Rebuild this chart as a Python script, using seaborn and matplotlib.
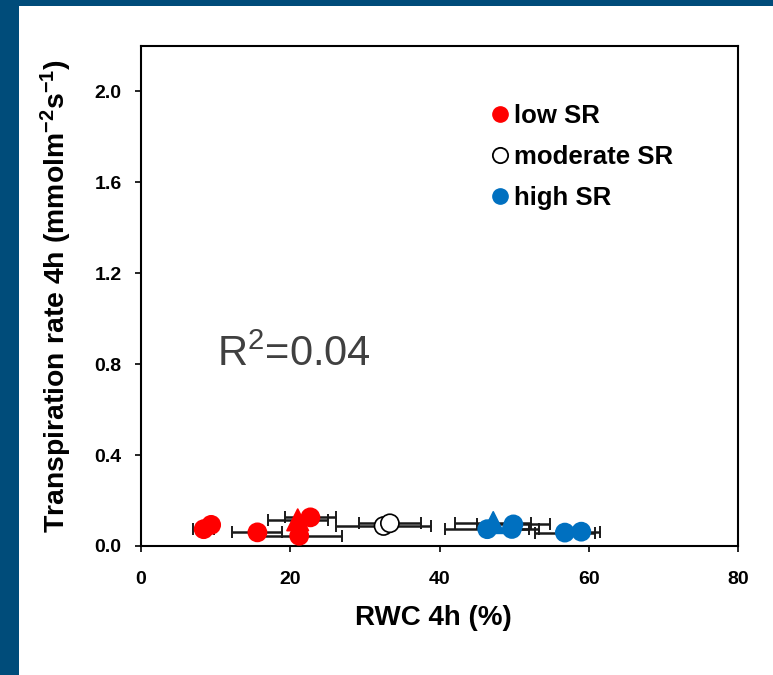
import matplotlib
matplotlib.use("Agg")
import matplotlib.pyplot as plt
import seaborn as sns
import pandas as pd
from matplotlib.lines import Line2D
from matplotlib.patches import Rectangle

# ---- data ----
low_x = [8.4, 9.4, 15.6, 22.7, 21.2]
low_y = [0.074, 0.093, 0.060, 0.126, 0.045]
low_xerr = [1.4, 0.0, 3.35, 3.4, 5.8]
low_tri_x = [21.0]
low_tri_y = [0.115]
low_tri_xerr = [4.0]

mod_x = [32.5, 33.35]
mod_y = [0.088, 0.100]
mod_xerr = [6.4, 4.2]

high_x = [46.4, 49.9, 49.7, 56.8, 59.0]
high_y = [0.074, 0.095, 0.075, 0.059, 0.063]
high_xerr = [5.6, 4.9, 3.7, 4.0, 2.5]
high_tri_x = [47.2]
high_tri_y = [0.103]
high_tri_xerr = [5.1]

groups = ["low SR", "moderate SR", "high SR"]
x_ticks = [0, 20, 40, 60, 80]
y_ticks = [0.0, 0.4, 0.8, 1.2, 1.6, 2.0]

RED = "#ff0000"
BLUE = "#0070c0"

sns.set_style("white")
plt.rcParams["font.family"] = ["Liberation Sans", "DejaVu Sans"]
plt.rcParams["mathtext.fontset"] = "custom"
plt.rcParams["mathtext.rm"] = "Liberation Sans"
plt.rcParams["mathtext.bf"] = "Liberation Sans:bold"
plt.rcParams["mathtext.it"] = "Liberation Sans:italic"
plt.rcParams["text.color"] = "black"
plt.rcParams["axes.labelcolor"] = "black"
plt.rcParams["xtick.color"] = "black"
plt.rcParams["ytick.color"] = "black"

fig = plt.figure(figsize=(7.73, 6.75), dpi=100)
fig.patch.set_facecolor("white")
# blue frame strips
fig.patches.append(Rectangle((0, 0), 19 / 773, 1, transform=fig.transFigure,
                             facecolor="#004c7a", edgecolor="none", zorder=0))
fig.patches.append(Rectangle((0, 1 - 6 / 675), 1, 6 / 675, transform=fig.transFigure,
                             facecolor="#004c7a", edgecolor="none", zorder=0))

ax = fig.add_axes([141 / 773, (675 - 546) / 675, (738 - 141) / 773, (546 - 46) / 675])

df = pd.concat([
    pd.DataFrame({"x": low_x, "y": low_y, "xerr": low_xerr, "group": "low SR", "shape": "c"}),
    pd.DataFrame({"x": low_tri_x, "y": low_tri_y, "xerr": low_tri_xerr, "group": "low SR", "shape": "t"}),
    pd.DataFrame({"x": mod_x, "y": mod_y, "xerr": mod_xerr, "group": "moderate SR", "shape": "c"}),
    pd.DataFrame({"x": high_x, "y": high_y, "xerr": high_xerr, "group": "high SR", "shape": "c"}),
    pd.DataFrame({"x": high_tri_x, "y": high_tri_y, "xerr": high_tri_xerr, "group": "high SR", "shape": "t"}),
], ignore_index=True)

# error bars
ax.errorbar(df["x"], df["y"], xerr=df["xerr"], fmt="none", ecolor="#1a1a1a",
            elinewidth=1.8, capsize=4, capthick=1.4, zorder=2)

# points
fills = {"low SR": RED, "moderate SR": "white", "high SR": BLUE}
edges = {"low SR": RED, "moderate SR": "black", "high SR": BLUE}
for g in groups:
    sub = df[df["group"] == g]
    sns.scatterplot(data=sub, x="x", y="y", style="shape", size="shape",
                    markers={"c": "o", "t": "^"}, sizes={"c": 170, "t": 240},
                    color=fills[g], edgecolor=edges[g], linewidth=1.2,
                    legend=False, ax=ax, zorder=3)

ax.set_xlim(0, 80)
ax.set_ylim(0, 2.2)
ax.set_xticks(x_ticks)
ax.set_xticklabels([str(t) for t in x_ticks])
ax.set_yticks(y_ticks)
ax.set_yticklabels([f"{t:.1f}" for t in y_ticks])
for s in ax.spines.values():
    s.set_visible(True)
    s.set_color("black")
    s.set_linewidth(1.5)
ax.tick_params(axis="both", direction="out", length=4, width=1.2, color="black",
               labelsize=14, bottom=True, left=True, labelcolor="black")
ax.tick_params(axis="x", pad=14)
ax.tick_params(axis="y", pad=10)
for lab in ax.get_xticklabels() + ax.get_yticklabels():
    lab.set_fontweight("bold")

ax.set_xlabel("RWC 4h (%)", fontsize=20, fontweight="bold", labelpad=12)
ax.xaxis.set_label_coords(0.489, -0.118)
ax.set_ylabel(r"Transpiration rate 4h (mmolm$^{\mathbf{-2}}$s$^{\mathbf{-1}}$)",
              fontsize=20.4, fontweight="bold")
ax.yaxis.set_label_coords(-0.112, 0.5)

ax.text(10.2, 0.79, r"R$^{\mathrm{2}}$=0.04", fontsize=30, color="#404040",
        ha="left", va="baseline")

handles = [
    Line2D([], [], marker="o", linestyle="none", markersize=11,
           markerfacecolor=RED, markeredgecolor=RED),
    Line2D([], [], marker="o", linestyle="none", markersize=11,
           markerfacecolor="white", markeredgecolor="black", markeredgewidth=1.3),
    Line2D([], [], marker="o", linestyle="none", markersize=11,
           markerfacecolor=BLUE, markeredgecolor=BLUE),
]
leg = ax.legend(handles, groups, loc="upper left", bbox_to_anchor=(0.567, 0.91),
                frameon=False, borderpad=0, handlelength=0.6, handletextpad=0.25,
                labelspacing=0.66, prop={"size": 18.5, "weight": "bold"})

fig.savefig("out.png", dpi=100)
